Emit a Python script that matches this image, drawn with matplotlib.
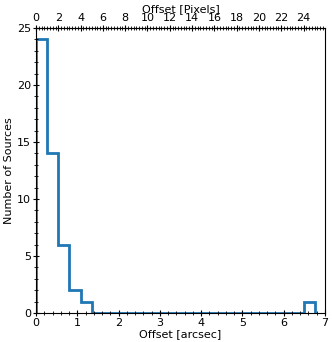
import matplotlib
matplotlib.use("Agg")
import matplotlib.pyplot as plt
import numpy as np
from matplotlib.ticker import MultipleLocator

pixel_scale = 0.27  # arcsec per pixel
counts = [24, 14, 6, 2, 1, 0, 0, 0, 0, 0, 0, 0, 0, 0, 0, 0, 0, 0, 0, 0, 0, 0, 0, 0, 1]
edges = np.arange(len(counts) + 1) * pixel_scale

plt.rcParams['font.size'] = 8
fig = plt.figure(figsize=(3.32, 3.42), dpi=100)
ax = fig.add_axes([36/332, 1 - 313/342, 289/332, 285/342])
ax.stairs(counts, edges, color='#1f77b4', linewidth=2)
ax.set_xlim(0, 7)
ax.set_ylim(0, 25)
ax.set_xlabel('Offset [arcsec]', labelpad=1)
ax.set_ylabel('Number of Sources', labelpad=2)
ax.yaxis.set_major_locator(MultipleLocator(5))
ax.yaxis.set_minor_locator(MultipleLocator(1))
ax.xaxis.set_minor_locator(MultipleLocator(0.2))
ax.tick_params(which='major', direction='inout', length=5, pad=1)
ax.tick_params(which='minor', direction='inout', length=3)

sec = ax.secondary_xaxis('top', functions=(lambda x: x / pixel_scale, lambda p: p * pixel_scale))
sec.set_xlabel('Offset [Pixels]', labelpad=1)
sec.xaxis.set_major_locator(MultipleLocator(2))
sec.xaxis.set_minor_locator(MultipleLocator(0.25))
sec.tick_params(which='major', direction='inout', length=5, pad=1)
sec.tick_params(which='minor', direction='inout', length=3)

fig.savefig('out.png', dpi=100)
